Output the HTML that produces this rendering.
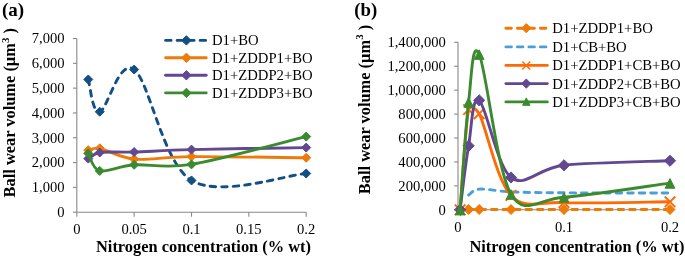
<!DOCTYPE html>
<html><head><meta charset="utf-8"><style>
html,body{margin:0;padding:0;background:#fff;}
body{width:685px;height:257px;overflow:hidden;}
svg{display:block;font-family:"Liberation Serif",serif;will-change:transform;}
</style></head><body>
<svg width="685" height="257" viewBox="0 0 685 257">
<rect width="685" height="257" fill="#fff"/>
<g stroke="#888888" stroke-width="1.1" fill="none">
<path d="M76.80,38.53 V212.20"/>
<path d="M76.80,212.20 H306.20"/>
<path d="M73.00,212.20 H76.80"/>
<path d="M73.00,187.39 H76.80"/>
<path d="M73.00,162.58 H76.80"/>
<path d="M73.00,137.77 H76.80"/>
<path d="M73.00,112.96 H76.80"/>
<path d="M73.00,88.15 H76.80"/>
<path d="M73.00,63.34 H76.80"/>
<path d="M73.00,38.53 H76.80"/>
<path d="M76.80,212.20 V216.70"/>
<path d="M134.15,212.20 V216.70"/>
<path d="M191.50,212.20 V216.70"/>
<path d="M248.85,212.20 V216.70"/>
<path d="M306.20,212.20 V216.70"/>
</g>
<text x="64.60" y="217.10" font-size="14.60" text-anchor="end" font-weight="normal" >0</text>
<text x="64.60" y="192.29" font-size="14.60" text-anchor="end" font-weight="normal" >1,000</text>
<text x="64.60" y="167.48" font-size="14.60" text-anchor="end" font-weight="normal" >2,000</text>
<text x="64.60" y="142.67" font-size="14.60" text-anchor="end" font-weight="normal" >3,000</text>
<text x="64.60" y="117.86" font-size="14.60" text-anchor="end" font-weight="normal" >4,000</text>
<text x="64.60" y="93.05" font-size="14.60" text-anchor="end" font-weight="normal" >5,000</text>
<text x="64.60" y="68.24" font-size="14.60" text-anchor="end" font-weight="normal" >6,000</text>
<text x="64.60" y="43.43" font-size="14.60" text-anchor="end" font-weight="normal" >7,000</text>
<text x="76.80" y="234.00" font-size="14.60" text-anchor="middle" font-weight="normal" >0</text>
<text x="134.15" y="234.00" font-size="14.60" text-anchor="middle" font-weight="normal" >0.05</text>
<text x="191.50" y="234.00" font-size="14.60" text-anchor="middle" font-weight="normal" >0.1</text>
<text x="248.85" y="234.00" font-size="14.60" text-anchor="middle" font-weight="normal" >0.15</text>
<text x="306.20" y="234.00" font-size="14.60" text-anchor="middle" font-weight="normal" >0.2</text>
<path d="M88.27,79.47 C90.18,84.84 92.09,113.37 99.74,111.72 C107.39,110.07 118.86,58.09 134.15,69.54 C149.44,81.00 162.82,163.12 191.50,180.44 C220.18,197.77 287.08,174.65 306.20,173.50" fill="none" stroke="#124F85" stroke-width="2.90" stroke-linecap="round" stroke-linejoin="round" stroke-dasharray="5.5 6.0"/>
<path d="M88.27,74.97 L92.77,79.47 L88.27,83.97 L83.77,79.47 Z" fill="#124F85" stroke="#124F85" stroke-width="1" stroke-linejoin="miter"/>
<path d="M99.74,107.22 L104.24,111.72 L99.74,116.22 L95.24,111.72 Z" fill="#124F85" stroke="#124F85" stroke-width="1" stroke-linejoin="miter"/>
<path d="M134.15,65.04 L138.65,69.54 L134.15,74.04 L129.65,69.54 Z" fill="#124F85" stroke="#124F85" stroke-width="1" stroke-linejoin="miter"/>
<path d="M191.50,175.94 L196.00,180.44 L191.50,184.94 L187.00,180.44 Z" fill="#124F85" stroke="#124F85" stroke-width="1" stroke-linejoin="miter"/>
<path d="M306.20,169.00 L310.70,173.50 L306.20,178.00 L301.70,173.50 Z" fill="#124F85" stroke="#124F85" stroke-width="1" stroke-linejoin="miter"/>
<path d="M88.27,150.17 C90.18,149.86 94.04,147.20 99.74,148.31 C107.39,149.80 118.86,157.73 134.15,159.11 C149.44,160.49 162.82,156.82 191.50,156.60 C220.18,156.38 287.08,157.59 306.20,157.79" fill="none" stroke="#EE7A08" stroke-width="2.90" stroke-linecap="round" stroke-linejoin="round"/>
<path d="M88.27,145.67 L92.77,150.17 L88.27,154.67 L83.77,150.17 Z" fill="#EE7A08" stroke="#EE7A08" stroke-width="1" stroke-linejoin="miter"/>
<path d="M99.74,143.81 L104.24,148.31 L99.74,152.81 L95.24,148.31 Z" fill="#EE7A08" stroke="#EE7A08" stroke-width="1" stroke-linejoin="miter"/>
<path d="M134.15,154.61 L138.65,159.11 L134.15,163.61 L129.65,159.11 Z" fill="#EE7A08" stroke="#EE7A08" stroke-width="1" stroke-linejoin="miter"/>
<path d="M191.50,152.10 L196.00,156.60 L191.50,161.10 L187.00,156.60 Z" fill="#EE7A08" stroke="#EE7A08" stroke-width="1" stroke-linejoin="miter"/>
<path d="M306.20,153.29 L310.70,157.79 L306.20,162.29 L301.70,157.79 Z" fill="#EE7A08" stroke="#EE7A08" stroke-width="1" stroke-linejoin="miter"/>
<path d="M88.27,158.61 C90.18,157.59 93.31,153.43 99.74,152.51 C107.39,151.41 118.86,152.49 134.15,152.01 C149.44,151.53 162.82,150.34 191.50,149.60 C220.18,148.87 287.08,147.93 306.20,147.59" fill="none" stroke="#614891" stroke-width="2.90" stroke-linecap="round" stroke-linejoin="round"/>
<path d="M88.27,154.11 L92.77,158.61 L88.27,163.11 L83.77,158.61 Z" fill="#614891" stroke="#614891" stroke-width="1" stroke-linejoin="miter"/>
<path d="M99.74,148.01 L104.24,152.51 L99.74,157.01 L95.24,152.51 Z" fill="#614891" stroke="#614891" stroke-width="1" stroke-linejoin="miter"/>
<path d="M134.15,147.51 L138.65,152.01 L134.15,156.51 L129.65,152.01 Z" fill="#614891" stroke="#614891" stroke-width="1" stroke-linejoin="miter"/>
<path d="M191.50,145.10 L196.00,149.60 L191.50,154.10 L187.00,149.60 Z" fill="#614891" stroke="#614891" stroke-width="1" stroke-linejoin="miter"/>
<path d="M306.20,143.09 L310.70,147.59 L306.20,152.09 L301.70,147.59 Z" fill="#614891" stroke="#614891" stroke-width="1" stroke-linejoin="miter"/>
<path d="M88.27,153.40 C90.18,156.32 92.09,168.99 99.74,170.89 C107.39,172.79 118.86,165.90 134.15,164.81 C149.44,163.73 163.20,169.03 191.50,164.39 C220.18,159.69 287.08,141.24 306.20,136.60" fill="none" stroke="#3B8A2F" stroke-width="2.90" stroke-linecap="round" stroke-linejoin="round"/>
<path d="M88.27,148.90 L92.77,153.40 L88.27,157.90 L83.77,153.40 Z" fill="#3B8A2F" stroke="#3B8A2F" stroke-width="1" stroke-linejoin="miter"/>
<path d="M99.74,166.39 L104.24,170.89 L99.74,175.39 L95.24,170.89 Z" fill="#3B8A2F" stroke="#3B8A2F" stroke-width="1" stroke-linejoin="miter"/>
<path d="M134.15,160.31 L138.65,164.81 L134.15,169.31 L129.65,164.81 Z" fill="#3B8A2F" stroke="#3B8A2F" stroke-width="1" stroke-linejoin="miter"/>
<path d="M191.50,159.89 L196.00,164.39 L191.50,168.89 L187.00,164.39 Z" fill="#3B8A2F" stroke="#3B8A2F" stroke-width="1" stroke-linejoin="miter"/>
<path d="M306.20,132.10 L310.70,136.60 L306.20,141.10 L301.70,136.60 Z" fill="#3B8A2F" stroke="#3B8A2F" stroke-width="1" stroke-linejoin="miter"/>
<path d="M165.6,40.40 H206.2" stroke="#124F85" stroke-width="2.90" stroke-linecap="round" stroke-dasharray="5.5 6.0"/>
<path d="M186.40,35.70 L191.10,40.40 L186.40,45.10 L181.70,40.40 Z" fill="#124F85" stroke="#124F85" stroke-width="1" stroke-linejoin="miter"/>
<text x="212.00" y="45.40" font-size="14.70" text-anchor="start" font-weight="normal" >D1+BO</text>
<path d="M165.6,57.80 H206.2" stroke="#EE7A08" stroke-width="2.90" stroke-linecap="round"/>
<path d="M186.40,53.10 L191.10,57.80 L186.40,62.50 L181.70,57.80 Z" fill="#EE7A08" stroke="#EE7A08" stroke-width="1" stroke-linejoin="miter"/>
<text x="212.00" y="62.80" font-size="14.70" text-anchor="start" font-weight="normal" >D1+ZDDP1+BO</text>
<path d="M165.6,75.30 H206.2" stroke="#614891" stroke-width="2.90" stroke-linecap="round"/>
<path d="M186.40,70.60 L191.10,75.30 L186.40,80.00 L181.70,75.30 Z" fill="#614891" stroke="#614891" stroke-width="1" stroke-linejoin="miter"/>
<text x="212.00" y="80.30" font-size="14.70" text-anchor="start" font-weight="normal" >D1+ZDDP2+BO</text>
<path d="M165.6,92.90 H206.2" stroke="#3B8A2F" stroke-width="2.90" stroke-linecap="round"/>
<path d="M186.40,88.20 L191.10,92.90 L186.40,97.60 L181.70,92.90 Z" fill="#3B8A2F" stroke="#3B8A2F" stroke-width="1" stroke-linejoin="miter"/>
<text x="212.00" y="97.90" font-size="14.70" text-anchor="start" font-weight="normal" >D1+ZDDP3+BO</text>
<text x="2.00" y="16.00" font-size="19.00" text-anchor="start" font-weight="bold" >(a)</text>
<text x="203.50" y="251.50" font-size="16.40" text-anchor="middle" font-weight="bold" >Nitrogen concentration (% wt)</text>
<text transform="translate(15.2,112.7) rotate(-90)" font-size="16.4" font-weight="bold" text-anchor="middle">Ball wear volume (µm<tspan font-size="11" dy="-6.5">3</tspan><tspan dy="6.5"> )</tspan></text>
<g stroke="#888888" stroke-width="1.1" fill="none">
<path d="M458.00,42.29 V209.80"/>
<path d="M458.00,209.80 H670.00"/>
<path d="M454.20,209.80 H458.00"/>
<path d="M454.20,185.87 H458.00"/>
<path d="M454.20,161.94 H458.00"/>
<path d="M454.20,138.01 H458.00"/>
<path d="M454.20,114.08 H458.00"/>
<path d="M454.20,90.15 H458.00"/>
<path d="M454.20,66.22 H458.00"/>
<path d="M454.20,42.29 H458.00"/>
<path d="M458.00,209.80 V214.30"/>
<path d="M564.00,209.80 V214.30"/>
<path d="M670.00,209.80 V214.30"/>
</g>
<text x="445.80" y="214.70" font-size="14.60" text-anchor="end" font-weight="normal" >0</text>
<text x="445.80" y="190.77" font-size="14.60" text-anchor="end" font-weight="normal" >200,000</text>
<text x="445.80" y="166.84" font-size="14.60" text-anchor="end" font-weight="normal" >400,000</text>
<text x="445.80" y="142.91" font-size="14.60" text-anchor="end" font-weight="normal" >600,000</text>
<text x="445.80" y="118.98" font-size="14.60" text-anchor="end" font-weight="normal" >800,000</text>
<text x="445.80" y="95.05" font-size="14.60" text-anchor="end" font-weight="normal" >1,000,000</text>
<text x="445.80" y="71.12" font-size="14.60" text-anchor="end" font-weight="normal" >1,200,000</text>
<text x="445.80" y="47.19" font-size="14.60" text-anchor="end" font-weight="normal" >1,400,000</text>
<text x="458.00" y="231.80" font-size="14.60" text-anchor="middle" font-weight="normal" >0</text>
<text x="564.00" y="231.80" font-size="14.60" text-anchor="middle" font-weight="normal" >0.1</text>
<text x="670.00" y="231.80" font-size="14.60" text-anchor="middle" font-weight="normal" >0.2</text>
<path d="M468.60,209.49 C470.37,209.49 473.90,209.48 479.20,209.48 C486.27,209.49 496.87,209.53 511.00,209.54 C525.13,209.55 537.50,209.53 564.00,209.53 C590.50,209.53 652.33,209.54 670.00,209.54" fill="none" stroke="#EE7A08" stroke-width="2.90" stroke-linecap="round" stroke-linejoin="round" stroke-dasharray="5.5 6.0"/>
<path d="M468.60,204.49 L473.60,209.49 L468.60,214.49 L463.60,209.49 Z" fill="#EE7A08" stroke="#EE7A08" stroke-width="1" stroke-linejoin="miter"/>
<path d="M479.20,204.48 L484.20,209.48 L479.20,214.48 L474.20,209.48 Z" fill="#EE7A08" stroke="#EE7A08" stroke-width="1" stroke-linejoin="miter"/>
<path d="M511.00,204.54 L516.00,209.54 L511.00,214.54 L506.00,209.54 Z" fill="#EE7A08" stroke="#EE7A08" stroke-width="1" stroke-linejoin="miter"/>
<path d="M564.00,204.53 L569.00,209.53 L564.00,214.53 L559.00,209.53 Z" fill="#EE7A08" stroke="#EE7A08" stroke-width="1" stroke-linejoin="miter"/>
<path d="M670.00,204.54 L675.00,209.54 L670.00,214.54 L665.00,209.54 Z" fill="#EE7A08" stroke="#EE7A08" stroke-width="1" stroke-linejoin="miter"/>
<path d="M468.60,195.08 C470.37,194.09 473.13,189.56 479.20,189.10 C486.27,188.56 496.87,191.23 511.00,191.85 C525.13,192.47 537.50,192.61 564.00,192.81 C590.50,193.01 652.33,193.01 670.00,193.05" fill="none" stroke="#4A9FDA" stroke-width="2.90" stroke-linecap="round" stroke-linejoin="round" stroke-dasharray="5.5 6.0"/>
<path d="M460.12,209.80 C461.53,193.11 465.42,125.67 468.60,109.65 C469.71,104.08 476.68,108.63 479.20,113.72 C486.27,128.02 496.87,180.63 511.00,195.44 C525.13,210.26 537.50,201.56 564.00,202.62 C590.50,203.68 652.33,201.92 670.00,201.78" fill="none" stroke="#FF6A05" stroke-width="2.90" stroke-linecap="round" stroke-linejoin="round"/>
<path d="M454.82,204.50 L465.42,215.10 M454.82,215.10 L465.42,204.50" stroke="#FF6A05" stroke-width="1.90" fill="none"/>
<path d="M463.30,104.35 L473.90,114.95 M463.30,114.95 L473.90,104.35" stroke="#FF6A05" stroke-width="1.90" fill="none"/>
<path d="M473.90,108.42 L484.50,119.02 M473.90,119.02 L484.50,108.42" stroke="#FF6A05" stroke-width="1.90" fill="none"/>
<path d="M505.70,190.14 L516.30,200.74 M505.70,200.74 L516.30,190.14" stroke="#FF6A05" stroke-width="1.90" fill="none"/>
<path d="M558.70,197.32 L569.30,207.92 M558.70,207.92 L569.30,197.32" stroke="#FF6A05" stroke-width="1.90" fill="none"/>
<path d="M664.70,196.48 L675.30,207.08 M664.70,207.08 L675.30,196.48" stroke="#FF6A05" stroke-width="1.90" fill="none"/>
<path d="M460.12,209.80 C461.53,199.13 465.42,164.03 468.60,145.79 C471.78,127.54 472.13,95.04 479.20,100.32 C486.27,105.60 496.87,166.67 511.00,177.49 C525.13,188.32 537.50,168.08 564.00,165.29 C590.50,162.50 652.33,161.50 670.00,160.74" fill="none" stroke="#614891" stroke-width="2.90" stroke-linecap="round" stroke-linejoin="round"/>
<path d="M460.12,204.20 L465.72,209.80 L460.12,215.40 L454.52,209.80 Z" fill="#614891" stroke="#614891" stroke-width="1" stroke-linejoin="miter"/>
<path d="M468.60,140.19 L474.20,145.79 L468.60,151.39 L463.00,145.79 Z" fill="#614891" stroke="#614891" stroke-width="1" stroke-linejoin="miter"/>
<path d="M479.20,94.72 L484.80,100.32 L479.20,105.92 L473.60,100.32 Z" fill="#614891" stroke="#614891" stroke-width="1" stroke-linejoin="miter"/>
<path d="M511.00,171.89 L516.60,177.49 L511.00,183.09 L505.40,177.49 Z" fill="#614891" stroke="#614891" stroke-width="1" stroke-linejoin="miter"/>
<path d="M564.00,159.69 L569.60,165.29 L564.00,170.89 L558.40,165.29 Z" fill="#614891" stroke="#614891" stroke-width="1" stroke-linejoin="miter"/>
<path d="M670.00,155.14 L675.60,160.74 L670.00,166.34 L664.40,160.74 Z" fill="#614891" stroke="#614891" stroke-width="1" stroke-linejoin="miter"/>
<path d="M460.12,209.80 C461.53,191.85 465.42,128.04 468.60,102.12 C471.58,77.79 472.13,38.90 479.20,54.26 C486.27,69.61 496.87,170.42 511.00,194.25 C524.54,217.07 537.52,199.09 564.00,197.24 C590.50,195.38 652.33,185.47 670.00,183.12" fill="none" stroke="#3B8A2F" stroke-width="2.90" stroke-linecap="round" stroke-linejoin="round"/>
<path d="M460.12,205.30 L464.92,214.90 L455.32,214.90 Z" fill="#3B8A2F" stroke="#3B8A2F" stroke-width="1"/>
<path d="M468.60,97.62 L473.40,107.22 L463.80,107.22 Z" fill="#3B8A2F" stroke="#3B8A2F" stroke-width="1"/>
<path d="M479.20,49.76 L484.00,59.36 L474.40,59.36 Z" fill="#3B8A2F" stroke="#3B8A2F" stroke-width="1"/>
<path d="M511.00,189.75 L515.80,199.35 L506.20,199.35 Z" fill="#3B8A2F" stroke="#3B8A2F" stroke-width="1"/>
<path d="M564.00,192.74 L568.80,202.34 L559.20,202.34 Z" fill="#3B8A2F" stroke="#3B8A2F" stroke-width="1"/>
<path d="M670.00,178.62 L674.80,188.22 L665.20,188.22 Z" fill="#3B8A2F" stroke="#3B8A2F" stroke-width="1"/>
<path d="M505.9,28.20 H547.3" stroke="#EE7A08" stroke-width="2.90" stroke-linecap="round" stroke-dasharray="5.5 6.0"/>
<path d="M526.30,23.60 L530.90,28.20 L526.30,32.80 L521.70,28.20 Z" fill="#EE7A08" stroke="#EE7A08" stroke-width="1" stroke-linejoin="miter"/>
<text x="552.20" y="33.20" font-size="14.70" text-anchor="start" font-weight="normal" >D1+ZDDP1+BO</text>
<path d="M505.9,46.90 H547.3" stroke="#4A9FDA" stroke-width="2.90" stroke-linecap="round" stroke-dasharray="5.5 6.0"/>
<text x="552.20" y="51.90" font-size="14.70" text-anchor="start" font-weight="normal" >D1+CB+BO</text>
<path d="M505.9,65.40 H547.3" stroke="#FF6A05" stroke-width="2.90" stroke-linecap="round"/>
<path d="M522.30,61.40 L530.30,69.40 M522.30,69.40 L530.30,61.40" stroke="#FF6A05" stroke-width="1.40" fill="none"/>
<text x="552.20" y="70.40" font-size="14.70" text-anchor="start" font-weight="normal" >D1+ZDDP1+CB+BO</text>
<path d="M505.9,83.60 H547.3" stroke="#614891" stroke-width="2.90" stroke-linecap="round"/>
<path d="M526.30,79.00 L530.90,83.60 L526.30,88.20 L521.70,83.60 Z" fill="#614891" stroke="#614891" stroke-width="1" stroke-linejoin="miter"/>
<text x="552.20" y="88.60" font-size="14.70" text-anchor="start" font-weight="normal" >D1+ZDDP2+CB+BO</text>
<path d="M505.9,101.90 H547.3" stroke="#3B8A2F" stroke-width="2.90" stroke-linecap="round"/>
<path d="M526.30,97.90 L530.00,105.30 L522.60,105.30 Z" fill="#3B8A2F" stroke="#3B8A2F" stroke-width="1"/>
<text x="552.20" y="106.90" font-size="14.70" text-anchor="start" font-weight="normal" >D1+ZDDP3+CB+BO</text>
<text x="354.30" y="15.80" font-size="18.80" text-anchor="start" font-weight="bold" >(b)</text>
<text x="576.90" y="251.50" font-size="16.40" text-anchor="middle" font-weight="bold" >Nitrogen concentration (% wt)</text>
<text transform="translate(369.9,109.5) rotate(-90)" font-size="16.4" font-weight="bold" text-anchor="middle">Ball wear volume (µm<tspan font-size="11" dy="-6.5">3</tspan><tspan dy="6.5"> )</tspan></text>
</svg>
</body></html>
